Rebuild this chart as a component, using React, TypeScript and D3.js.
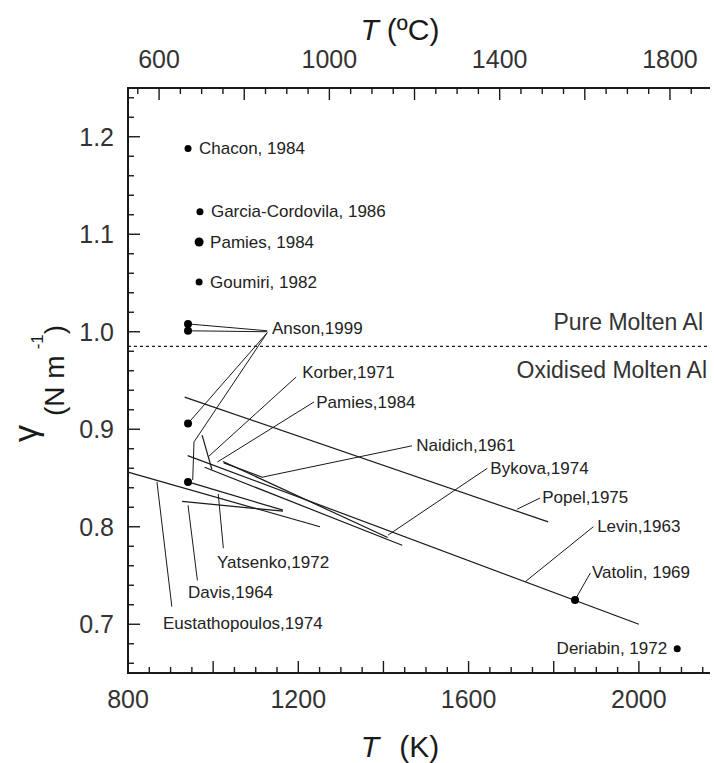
import React from 'react'
import * as d3 from 'd3'

const width = 714
const height = 763

// axis labels
const kelvinLabels = [800, 1200, 1600, 2000]
const celsiusLabels = [600, 1000, 1400, 1800]
const gammaLabels = [0.7, 0.8, 0.9, 1.0, 1.1, 1.2]

// single measurements, label to the right of the dot
const pointNames = ['Chacon, 1984', 'Garcia-Cordovila, 1986', 'Pamies, 1984', 'Goumiri, 1982']
const pointT = [941, 969, 967, 967]
const pointGamma = [1.188, 1.123, 1.092, 1.051]

// Anson, 1999 measurements
const ansonT = [941, 941, 941, 941]
const ansonGamma = [1.008, 1.001, 0.906, 0.846]

// Vatolin and Deriabin dots
const dotT = [1850, 2090]
const dotGamma = [0.725, 0.675]

// linear fits gamma(T): start and end
const fitNames = ['Popel', 'Levin', 'Bykova', 'Naidich', 'Pamies', 'Korber', 'Eustathopoulos', 'Yatsenko', 'Davis']
const fitT = [[933, 1787], [940, 2000], [980, 1444], [1023, 1410], [1025, 1117], [974, 997], [800, 1251], [941, 1164], [927, 1164]]
const fitGamma = [[0.933, 0.805], [0.873, 0.7], [0.861, 0.781], [0.867, 0.789], [0.8655, 0.8505], [0.894, 0.859], [0.856, 0.8], [0.846, 0.817], [0.826, 0.816]]

// oxidised / pure boundary
const boundaryGamma = 0.985

// annotation labels (left edge, middle)
const labelNames = ['Anson,1999', 'Korber,1971', 'Pamies,1984', 'Naidich,1961', 'Bykova,1974', 'Popel,1975', 'Levin,1963', 'Vatolin, 1969', 'Yatsenko,1972', 'Davis,1964', 'Eustathopoulos,1974']
const labelT = [1138, 1209, 1242, 1477, 1651, 1773, 1902, 1890, 1009, 941, 882]
const labelGamma = [1.003, 0.958, 0.927, 0.883, 0.86, 0.8295, 0.8, 0.7526, 0.763, 0.733, 0.701]

// leader lines from data to label
const leaderT = [
    [941, 1127], [941, 1127], [1127, 941], [1127, 955, 952],
    [989, 1195], [1010, 1237], [1117, 1467], [1411, 1644], [1714, 1768],
    [1733, 1893], [1850, 1886], [1012, 1024], [941, 963], [868, 903],
]
const leaderGamma = [
    [1.008, 1.001], [1.001, 1.0], [0.999, 0.906], [0.999, 0.887, 0.848],
    [0.872, 0.9536], [0.8664, 0.928], [0.851, 0.883], [0.7915, 0.86], [0.818, 0.8295],
    [0.7436, 0.8], [0.725, 0.7526], [0.8336, 0.778], [0.822, 0.745], [0.846, 0.718],
]

const deriabinLabel = 'Deriabin, 1972'

function App() {
    const x = d3.scaleLinear().domain([800, 2160]).range([128, 707])
    const y = d3.scaleLinear().domain([0.65, 1.25]).range([673, 88])
    const line = d3.line<[number, number]>().x(d => x(d[0])).y(d => y(d[1]))

    const [x0, x1] = [128, 710]
    const [yTop, yBottom] = y.range().slice().reverse()

    const kTicks = d3.range(800, 2151, 50)
    const cTicks = d3.range(550, 1851, 50)
    const gTicks = d3.range(33, 63).map(i => i / 50)

    const font = "'Liberation Sans', Arial, sans-serif"
    const ink = '#1a1a1a'

    return (
        <svg width={width} height={height} style={{ position: 'absolute', left: 0, top: 0, background: '#fff' }} fontFamily={font}>
            {/* titles */}
            <text x={400} y={40} fontSize={30} textAnchor="middle" fill={ink}>
                <tspan fontStyle="italic">T</tspan>
                <tspan dx={8}>(ºC)</tspan>
            </text>
            <text x={400} y={757} fontSize={30} textAnchor="middle" fill={ink}>
                <tspan fontStyle="italic">T</tspan>
                <tspan dx={20}>(K)</tspan>
            </text>
            <text transform="translate(64, 442) rotate(-90)" fill={ink}>
                <tspan fontSize={34} dy={-27}>γ</tspan>
                <tspan fontSize={28} dy={27} dx={9}>(N m</tspan>
                <tspan fontSize={17} dy={-21} dx={6}>-1</tspan>
                <tspan fontSize={28} dy={21}>)</tspan>
            </text>

            {/* axes */}
            <g stroke={ink} fill="none">
                <line x1={x0} x2={x0} y1={yTop} y2={yBottom} strokeWidth={2} />
                <line x1={x0 - 1} x2={x1} y1={yTop} y2={yTop} strokeWidth={2} />
                <line x1={x0 - 1} x2={x1} y1={yBottom} y2={yBottom} strokeWidth={2} />
                {kTicks.map(t => (
                    <line key={'k' + t} x1={x(t)} x2={x(t)} y1={yBottom} y2={yBottom - (t % 200 === 0 ? 12 : 6)} strokeWidth={1.4} />
                ))}
                {cTicks.map(c => (
                    <line key={'c' + c} x1={x(c + 273)} x2={x(c + 273)} y1={yTop} y2={yTop + (c % 200 === 0 ? 12 : 6)} strokeWidth={1.4} />
                ))}
                {gTicks.map(g => (
                    <line key={'g' + g} x1={x0} x2={x0 + (Math.round(g * 50) % 5 === 0 ? 12 : 6)} y1={y(g)} y2={y(g)} strokeWidth={1.4} />
                ))}
            </g>
            <g fontSize={25} fill="#333">
                {kelvinLabels.map(t => (
                    <text key={t} x={x(t)} y={yBottom + 26} textAnchor="middle" dominantBaseline="central">{t}</text>
                ))}
                {celsiusLabels.map(c => (
                    <text key={c} x={x(c + 273)} y={yTop - 29} textAnchor="middle" dominantBaseline="central">{c}</text>
                ))}
                {gammaLabels.map(g => (
                    <text key={g} x={x0 - 14} y={y(g)} textAnchor="end" dominantBaseline="central">{d3.format('.1f')(g)}</text>
                ))}
            </g>

            {/* boundary between pure and oxidised */}
            <line x1={x0} x2={x1} y1={y(boundaryGamma)} y2={y(boundaryGamma)} stroke={ink} strokeWidth={1.2} strokeDasharray="3 3" />
            <g fontSize={23} fill="#333" textAnchor="end">
                <text x={703} y={y(boundaryGamma) - 24} dominantBaseline="central">Pure Molten Al</text>
                <text x={707} y={y(boundaryGamma) + 24} dominantBaseline="central">Oxidised Molten Al</text>
            </g>

            {/* fits */}
            <g stroke={ink} strokeWidth={1.2} fill="none">
                {fitNames.map((n, i) => (
                    <path key={n} d={line(fitT[i].map((t, j) => [t, fitGamma[i][j]]) as [number, number][]) || ''} />
                ))}
                {leaderT.map((ts, i) => (
                    <path key={'l' + i} d={line(ts.map((t, j) => [t, leaderGamma[i][j]]) as [number, number][]) || ''} strokeWidth={1} />
                ))}
            </g>

            {/* dots */}
            <g fill="#000">
                {pointNames.map((n, i) => (
                    <circle key={n} cx={x(pointT[i])} cy={y(pointGamma[i])} r={i === 2 ? 4.5 : 3.5} />
                ))}
                {ansonT.map((t, i) => (
                    <circle key={'a' + i} cx={x(t)} cy={y(ansonGamma[i])} r={4} />
                ))}
                {dotT.map((t, i) => (
                    <circle key={'d' + i} cx={x(t)} cy={y(dotGamma[i])} r={i === 0 ? 4 : 3.5} />
                ))}
            </g>

            {/* labels */}
            <g fontSize={17} fill="#222" dominantBaseline="central">
                {pointNames.map((n, i) => (
                    <text key={n} x={x(pointT[i]) + 11} y={y(pointGamma[i])}>{n}</text>
                ))}
                {labelNames.map((n, i) => (
                    <text key={n} x={x(labelT[i])} y={y(labelGamma[i])}>{n}</text>
                ))}
                <text x={x(dotT[1]) - 10} y={y(dotGamma[1])} textAnchor="end">{deriabinLabel}</text>
            </g>
        </svg>
    )
}

export default App
